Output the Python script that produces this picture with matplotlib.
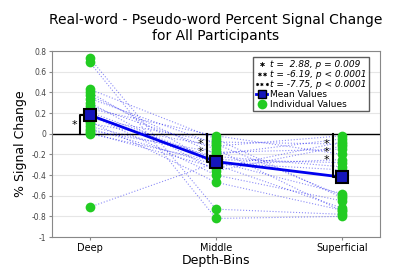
import matplotlib
matplotlib.use("Agg")
import matplotlib.pyplot as plt
from matplotlib.lines import Line2D

bins = ["Deep", "Middle", "Superficial"]

# one value per participant, same order in every bin
deep = [0.73, 0.69, 0.43, 0.40, 0.37, 0.34, 0.30, 0.27, 0.24, 0.21,
        0.18, 0.15, 0.12, 0.10, 0.07, 0.05, 0.03, 0.01, 0.00, -0.71]
middle = [-0.73, -0.82, -0.05, -0.30, -0.20, -0.10, -0.36, -0.15, -0.02, -0.25,
          -0.40, -0.08, -0.47, -0.12, -0.22, -0.30, -0.18, -0.33, -0.27, -0.28]
superficial = [-0.78, -0.80, -0.62, -0.72, -0.05, -0.60, -0.12, -0.75, -0.20, -0.28,
               -0.65, -0.10, -0.74, -0.02, -0.32, -0.25, -0.15, -0.08, -0.58, -0.35]
means = [0.18, -0.27, -0.42]

stars = ["*", "**", "***"]
stats = ["t =  2.88, p = 0.009", "t = -6.19, p < 0.0001", "t = -7.75, p < 0.0001"]

GREEN = "#22cc22"
BLUE = "#0000ee"

fig = plt.figure(figsize=(4, 2.7), dpi=100)
ax = fig.add_axes([0.13, 0.122, 0.82, 0.689])

x = [0, 1, 2]
# individual participant traces
for vals in zip(deep, middle, superficial):
    ax.plot(x, vals, ls=":", color=BLUE, lw=0.8, alpha=0.45, zorder=2)

for i, vals in enumerate([deep, middle, superficial]):
    ax.plot([i] * len(vals), vals, "o", color=GREEN, ms=7, mec="none", zorder=3)

ax.plot(x, means, "-", color=BLUE, lw=2, zorder=4)
ax.plot(x, means, "s", color="#1515bb", ms=9, mec="black", mew=1.5, zorder=6)

# significance brackets from zero to mean
off = 0.075
for i, m in enumerate(means):
    ax.plot([i - off, i - off, i - 0.03], [0, m, m], color="black", lw=1.5, zorder=5)
    if i == 0:
        ax.text(i - off - 0.05, m * 0.45, stars[i], fontsize=8, ha="center", va="center")
    else:
        ax.text(i - off - 0.05, -0.05, "\n".join(stars[i]), fontsize=8,
                ha="center", va="top", linespacing=0.75)

ax.axhline(0, color="black", lw=1, zorder=1)

ax.set_xlim(-0.3, 2.3)
ax.set_ylim(-1, 0.8)
ax.set_xticks(x)
ax.set_xticklabels(bins, fontsize=7)
ax.set_yticks([0.8, 0.6, 0.4, 0.2, 0, -0.2, -0.4, -0.6, -0.8, -1])
ax.set_yticklabels(["0.8", "0.6", "0.4", "0.2", "0", "-0.2", "-0.4", "-0.6", "-0.8", "-1"],
                   fontsize=5.5, color="#444444")
ax.tick_params(axis="both", length=2, color="#888888", pad=2)
ax.yaxis.grid(True, color="#e6e6e6", lw=0.8)
ax.set_axisbelow(True)
for s in ax.spines.values():
    s.set_color("#888888")

ax.set_xlabel("Depth-Bins", fontsize=9, labelpad=1)
ax.set_ylabel("% Signal Change", fontsize=9, labelpad=3)
ax.set_title("Real-word - Pseudo-word Percent Signal Change\nfor All Participants",
             fontsize=10, pad=8)

handles = [Line2D([], [], ls="none", marker="$%s$" % s, color="black",
                  ms=3 * len(s), mew=0.3) for s in stars]
handles.append(Line2D([], [], color=BLUE, lw=2, marker="s", mfc="#1515bb", mec="black", ms=6))
handles.append(Line2D([], [], ls="none", marker="o", color=GREEN, mec="none", ms=7))
labels = stats + ["Mean Values", "Individual Values"]
leg = ax.legend(handles, labels, loc="upper right", fontsize=6.5, frameon=True,
                fancybox=False, edgecolor="#333333", handlelength=1.2,
                handletextpad=0.3, labelspacing=0.1, borderpad=0.3,
                bbox_to_anchor=(0.98, 0.99))
for t in leg.get_texts()[:3]:
    t.set_style("italic")

fig.savefig("out.png", dpi=100)
